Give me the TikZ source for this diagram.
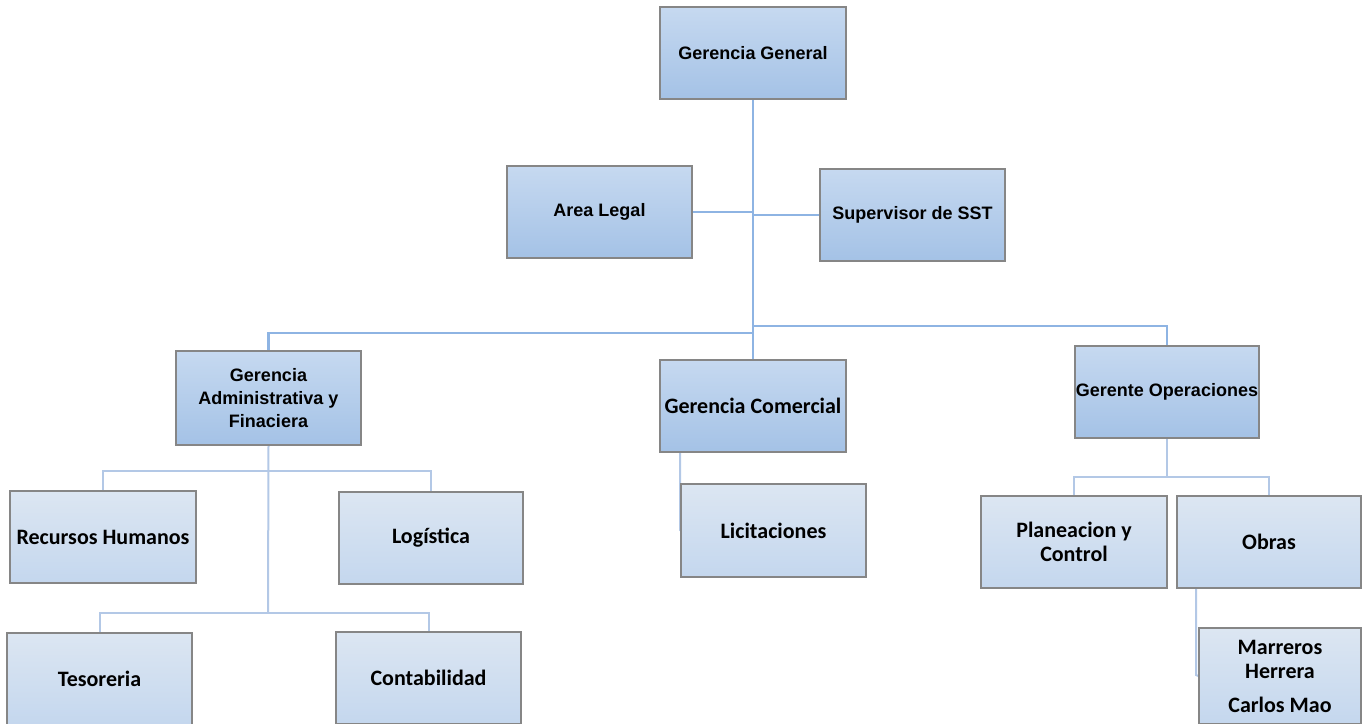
\documentclass[tikz,border=0pt]{standalone}
\usepackage{fontspec}
\newfontfamily\arfont{Liberation Sans}
\newfontfamily\cafont{Carlito}
\usetikzlibrary{backgrounds}
\definecolor{topA}{HTML}{C6D9F0}
\definecolor{topB}{HTML}{A4C2E6}
\definecolor{lowA}{HTML}{DCE6F2}
\definecolor{lowB}{HTML}{C4D7EE}
\definecolor{edge}{HTML}{868686}
\definecolor{lineA}{HTML}{8EB4E3}
\definecolor{lineB}{HTML}{B3C8E6}
\tikzset{
  box/.style={draw=edge, line width=0.6pt, inner sep=0pt, align=center, text=black},
  topbox/.style={box, top color=topA, bottom color=topB, font=\arfont\bfseries\fontsize{9}{11.5}\selectfont},
  topboxc/.style={box, top color=topA, bottom color=topB, font=\cafont\bfseries\fontsize{11}{12}\selectfont},
  lowbox/.style={box, top color=lowA, bottom color=lowB, font=\cafont\bfseries\fontsize{11}{12}\selectfont},
  topline/.style={draw=lineA, line width=1.25pt},
  lowline/.style={draw=lineB, line width=1pt},
}
\begin{document}
\begin{tikzpicture}[x=0.5pt,y=-0.5pt]
\useasboundingbox (0,0) rectangle (1365,723);
\clip (0,0) rectangle (1365,723);
% top level
\node[topbox, minimum width=93pt, minimum height=46pt] (GG) at (753,53) {Gerencia General};
\node[topbox, minimum width=92.5pt, minimum height=46pt] (AL) at (599.5,212) {Area Legal};
\node[topbox, minimum width=92.5pt, minimum height=46pt] (SST) at (912.5,215) {Supervisor de SST};
\node[topbox, minimum width=92.5pt, minimum height=47pt] (GAF) at (268.5,398) {Gerencia\\Administrativa y\\Finaciera};
\node[topboxc, minimum width=93pt, minimum height=46pt] (GC) at (753,406) {Gerencia Comercial};
\node[topbox, minimum width=92pt, minimum height=46pt] (GO) at (1167,392) {Gerente Operaciones};
% lower level
\node[lowbox, minimum width=93pt, minimum height=46pt] (RH) at (103,537) {Recursos Humanos};
\node[lowbox, minimum width=92pt, minimum height=46pt] (LOG) at (431,538) {Logística};
\node[lowbox, minimum width=92.5pt, minimum height=46pt] (TES) at (99.5,679) {Tesoreria};
\node[lowbox, minimum width=92.5pt, minimum height=46pt] (CON) at (428.5,678) {Contabilidad};
\node[lowbox, minimum width=92.5pt, minimum height=46.5pt] (LIC) at (773.5,530.5) {Licitaciones};
\node[lowbox, minimum width=93pt, minimum height=46pt] (PC) at (1074,542) {Planeacion y\\Control};
\node[lowbox, minimum width=92pt, minimum height=46pt] (OB) at (1269,542) {Obras};
\node[lowbox, minimum width=81pt, minimum height=48pt] (MH) at (1280,676) {Marreros\\Herrera\\[5pt]Carlos Mao};
% junctions
\coordinate (j1) at (753,333);
\coordinate (j2) at (753,326);
\coordinate (j3) at (268,471);
\coordinate (j4) at (268,613);
\coordinate (j5) at (680,530);
\coordinate (j6) at (1167,477);
\coordinate (j7) at (1196,675);
\begin{scope}[on background layer]
\draw[topline] (GG.south) -- (GC.north);
\draw[topline] (AL.east) -- (AL.east -| GG.south);
\draw[topline] (SST.west -| GG.south) -- (SST.west);
\draw[topline] (j1) -| (GAF.north);
\draw[topline] (j2) -| (GO.north);
\draw[lowline] (GAF.south) -- (j4);
\draw[lowline] (RH.north) |- (j3) -| (LOG.north);
\draw[lowline] (TES.north) |- (j4) -| (CON.north);
\draw[lowline] (GC.south -| j5) -- (j5) -- (LIC.west);
\draw[lowline] (GO.south) -- (j6);
\draw[lowline] (PC.north) |- (j6) -| (OB.north);
\draw[lowline] (OB.south -| j7) -- (j7) -- (MH.west);
\end{scope}
\end{tikzpicture}
\end{document}
